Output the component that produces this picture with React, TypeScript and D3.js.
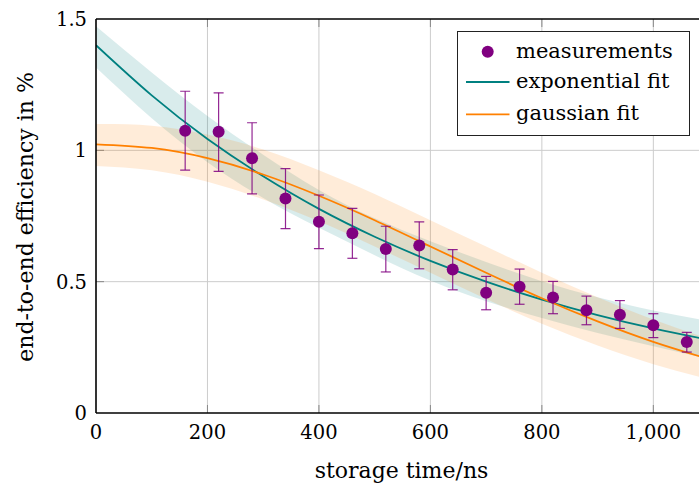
import React from "react";
import * as d3 from "d3";

// Measured storage times (ns) and end-to-end efficiency (%) with error bar limits
const storageTimes = [160, 220, 280, 340, 400, 460, 520, 580, 640, 700, 760, 820, 880, 940, 1000, 1060];
const efficiency = [1.075, 1.071, 0.970, 0.817, 0.728, 0.684, 0.624, 0.638, 0.546, 0.458, 0.481, 0.440, 0.391, 0.374, 0.334, 0.270];
const errUpper = [1.225, 1.219, 1.105, 0.930, 0.830, 0.779, 0.711, 0.728, 0.622, 0.520, 0.548, 0.501, 0.445, 0.428, 0.378, 0.307];
const errLower = [0.925, 0.920, 0.834, 0.702, 0.626, 0.589, 0.537, 0.549, 0.469, 0.393, 0.414, 0.378, 0.336, 0.322, 0.287, 0.232];

// Fit curves sampled on a 100 ns grid, with their confidence bands
const fitTimes = [0, 100, 200, 300, 400, 500, 600, 700, 800, 900, 1000, 1100];
const expFit = [1.400, 1.209, 1.043, 0.901, 0.777, 0.671, 0.579, 0.500, 0.432, 0.373, 0.322, 0.278];
const expHi = [1.472, 1.296, 1.131, 0.983, 0.849, 0.741, 0.654, 0.575, 0.502, 0.441, 0.390, 0.350];
const expLo = [1.315, 1.122, 0.955, 0.819, 0.705, 0.601, 0.504, 0.425, 0.362, 0.305, 0.254, 0.206];
const gaussFit = [1.023, 1.009, 0.970, 0.908, 0.827, 0.734, 0.634, 0.534, 0.437, 0.349, 0.271, 0.205];
const gaussHi = [1.100, 1.094, 1.060, 1.003, 0.924, 0.834, 0.734, 0.634, 0.534, 0.441, 0.356, 0.282];
const gaussLo = [0.940, 0.924, 0.880, 0.813, 0.730, 0.634, 0.534, 0.434, 0.340, 0.257, 0.186, 0.128];

const xTicks = [0, 200, 400, 600, 800, 1000];
const yTicks = [0, 0.5, 1, 1.5];
const legendLabels = ["measurements", "exponential fit", "gaussian fit"];

const W = 699;
const H = 484;
const FONT = "DejaVu Serif";
const TEAL = "#008080";
const ORANGE = "#ff8000";
const VIOLET = "#800080";

export default function App() {
  const x = d3.scaleLinear().domain([0, 1090]).range([96, 703.5]);
  const y = d3.scaleLinear().domain([0, 1.5]).range([413, 19]);
  const [x0, x1] = x.range();
  const [y0, y1] = y.range();

  const line = (vals: number[]) =>
    d3
      .line<number>()
      .x((_, i) => x(fitTimes[i]))
      .y((d) => y(d))
      .curve(d3.curveNatural)(vals) || "";

  const band = (lo: number[], hi: number[]) =>
    d3
      .area<number>()
      .x((_, i) => x(fitTimes[i]))
      .y0((_, i) => y(lo[i]))
      .y1((_, i) => y(hi[i]))
      .curve(d3.curveNatural)(fitTimes) || "";

  const fmt = d3.format(",");

  const legX = 457.5;
  const legY = 31.5;
  const legW = 232;
  const legH = 104;
  const rowY = [51.7, 82, 114.3];

  return (
    <svg
      width={W}
      height={H}
      style={{ position: "absolute", left: 0, top: 0, background: "#fff", fontFamily: FONT }}
    >
      <defs>
        <clipPath id="plotArea">
          <rect x={x0} y={y1} width={x1 - x0} height={y0 - y1} />
        </clipPath>
      </defs>

      {/* grid */}
      <g stroke="#cccccc" strokeWidth={1}>
        {xTicks.filter((t) => t > 0).map((t) => (
          <line key={"gx" + t} x1={x(t)} x2={x(t)} y1={y1} y2={y0} />
        ))}
        {yTicks.filter((t) => t > 0 && t < 1.5).map((t) => (
          <line key={"gy" + t} x1={x0} x2={x1} y1={y(t)} y2={y(t)} />
        ))}
      </g>
      {/* tick marks */}
      <g stroke="#888" strokeWidth={1}>
        {xTicks.filter((t) => t > 0).map((t) => (
          <g key={"tx" + t}>
            <line x1={x(t)} x2={x(t)} y1={y0} y2={y0 - 8} />
            <line x1={x(t)} x2={x(t)} y1={y1} y2={y1 + 8} />
          </g>
        ))}
        {yTicks.filter((t) => t > 0 && t < 1.5).map((t) => (
          <line key={"ty" + t} x1={x0} x2={x0 + 8} y1={y(t)} y2={y(t)} />
        ))}
      </g>

      <g clipPath="url(#plotArea)">
        <path d={band(expLo, expHi)} fill={TEAL} fillOpacity={0.15} />
        <path d={band(gaussLo, gaussHi)} fill={ORANGE} fillOpacity={0.15} />
        <path d={line(expFit)} fill="none" stroke={TEAL} strokeWidth={1.8} />
        <path d={line(gaussFit)} fill="none" stroke={ORANGE} strokeWidth={1.8} />

        {/* error bars */}
        <g stroke={VIOLET} strokeWidth={1.2} strokeOpacity={0.85}>
          {storageTimes.map((t, i) => (
            <g key={"e" + t}>
              <line x1={x(t)} x2={x(t)} y1={y(errLower[i])} y2={y(errUpper[i])} />
              <line x1={x(t) - 5} x2={x(t) + 5} y1={y(errLower[i])} y2={y(errLower[i])} />
              <line x1={x(t) - 5} x2={x(t) + 5} y1={y(errUpper[i])} y2={y(errUpper[i])} />
            </g>
          ))}
        </g>
        {storageTimes.map((t, i) => (
          <circle key={"p" + t} cx={x(t)} cy={y(efficiency[i])} r={6} fill={VIOLET} />
        ))}
      </g>

      {/* axis frame */}
      <g stroke="#000" strokeWidth={1.6} fill="none">
        <line x1={x0} x2={x0} y1={y1} y2={y0} />
        <line x1={x0} x2={x1} y1={y0} y2={y0} />
        <line x1={x0} x2={x1} y1={y1} y2={y1} />
        <line x1={x1} x2={x1} y1={y1} y2={y0} />
      </g>

      {/* tick labels */}
      <g fontSize={19.5} fill="#000">
        {xTicks.map((t) => (
          <text key={"lx" + t} x={x(t)} y={439} textAnchor="middle">
            {fmt(t)}
          </text>
        ))}
        {yTicks.map((t) => (
          <text key={"ly" + t} x={87} y={y(t) + 7} textAnchor="end">
            {String(t)}
          </text>
        ))}
      </g>

      {/* axis titles */}
      <text x={401.5} y={478} textAnchor="middle" fontSize={22}>
        storage time/ns
      </text>
      <text
        transform={`translate(33,217) rotate(-90)`}
        textAnchor="middle"
        fontSize={22}
      >
        end-to-end efficiency in %
      </text>

      {/* legend */}
      <g>
        <rect x={legX} y={legY} width={legW} height={legH} fill="#fff" stroke="#222" strokeWidth={1} />
        <circle cx={487.7} cy={rowY[0]} r={6} fill={VIOLET} />
        <line x1={466} x2={509.5} y1={rowY[1]} y2={rowY[1]} stroke={TEAL} strokeWidth={1.8} />
        <line x1={466} x2={509.5} y1={rowY[2]} y2={rowY[2]} stroke={ORANGE} strokeWidth={1.8} />
        {legendLabels.map((l, i) => (
          <text key={l} x={516} y={rowY[i] + 6} fontSize={21}>
            {l}
          </text>
        ))}
      </g>
    </svg>
  );
}
